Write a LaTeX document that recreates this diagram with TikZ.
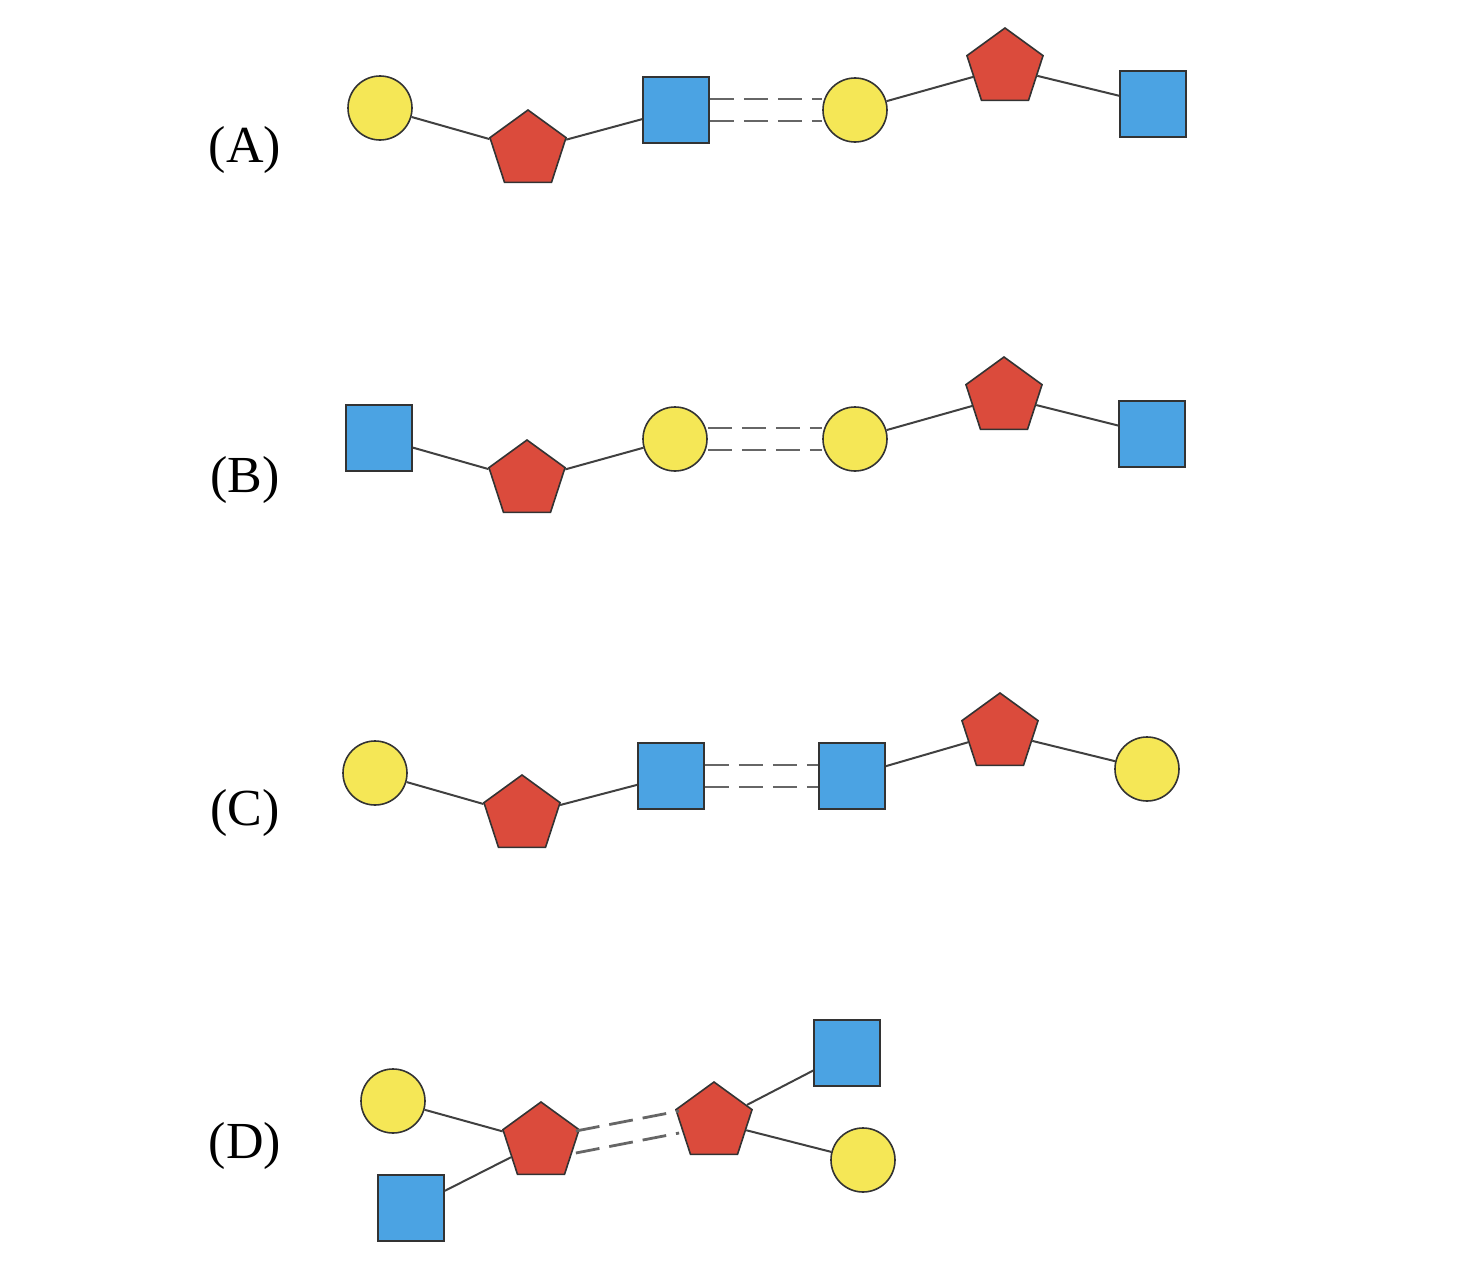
\documentclass[tikz,border=0pt]{standalone}
\usepackage{fontspec}
\setmainfont{Liberation Serif}
\usetikzlibrary{shapes.geometric}
\definecolor{galyellow}{HTML}{F5E756}
\definecolor{fucred}{HTML}{DB4B3C}
\definecolor{glcblue}{HTML}{4BA3E3}
\tikzset{
  gal/.style={circle,draw=black!80,fill=galyellow,line width=0.8pt,minimum size=32pt,inner sep=0pt},
  fuc/.style={regular polygon,regular polygon sides=5,draw=black!80,fill=fucred,line width=0.8pt,minimum size=40pt,inner sep=0pt},
  glc/.style={rectangle,draw=black!80,fill=glcblue,line width=0.8pt,minimum size=33pt,inner sep=0pt},
  link/.style={draw=black!75,line width=1pt},
  nc/.style={draw=black!60,line width=1.4pt,dash pattern=on 12pt off 5pt},
  lbl/.style={font=\fontsize{26}{28}\selectfont}
}
\newcommand{\dlink}[2]{%
  \draw[nc] ([yshift=5.5pt]#1.east) -- ([yshift=5.5pt]#2.west);
  \draw[nc] ([yshift=-5.5pt]#1.east) -- ([yshift=-5.5pt]#2.west);}
\begin{document}
\begin{tikzpicture}[x=0.5pt,y=-0.5pt]
  \useasboundingbox (0,0) rectangle (1474,1269);
  % (A)
  \node[lbl] (lA) at (245,150) {(A)};
  \node[gal] (a1) at (380,108) {};
  \node[fuc] (a2) at (528,150) {};
  \node[glc] (a3) at (676,110) {};
  \node[gal] (a4) at (855,110) {};
  \node[fuc] (a5) at (1005,68) {};
  \node[glc] (a6) at (1153,104) {};
  \draw[link] (a1) -- (a2) -- (a3) (a4) -- (a5) -- (a6);
  \dlink{a3}{a4}
  % (B)
  \node[lbl] (lB) at (245,480) {(B)};
  \node[glc] (b1) at (379,438) {};
  \node[fuc] (b2) at (527,480) {};
  \node[gal] (b3) at (675,439) {};
  \node[gal] (b4) at (855,439) {};
  \node[fuc] (b5) at (1004,397) {};
  \node[glc] (b6) at (1152,434) {};
  \draw[link] (b1) -- (b2) -- (b3) (b4) -- (b5) -- (b6);
  \dlink{b3}{b4}
  % (C)
  \node[lbl] (lC) at (245,813) {(C)};
  \node[gal] (c1) at (375,773) {};
  \node[fuc] (c2) at (522,815) {};
  \node[glc] (c3) at (671,776) {};
  \node[glc] (c4) at (852,776) {};
  \node[fuc] (c5) at (1000,733) {};
  \node[gal] (c6) at (1147,769) {};
  \draw[link] (c1) -- (c2) -- (c3) (c4) -- (c5) -- (c6);
  \dlink{c3}{c4}
  % (D)
  \node[lbl] (lD) at (245,1146) {(D)};
  \node[gal] (d1) at (393,1101) {};
  \node[fuc] (d2) at (541,1142) {};
  \node[glc] (d3) at (411,1208) {};
  \node[fuc] (d4) at (714,1122) {};
  \node[glc] (d5) at (847,1053) {};
  \node[gal] (d6) at (863,1160) {};
  \draw[link] (d1) -- (d2) -- (d3) (d5) -- (d4) -- (d6);
  \draw[nc] ([yshift=-5.5pt]d2.east) -- ([yshift=-5.5pt]d4.west);
  \draw[nc] ([yshift=5.5pt]d2.east) -- ([yshift=5.5pt]d4.west);
\end{tikzpicture}
\end{document}
